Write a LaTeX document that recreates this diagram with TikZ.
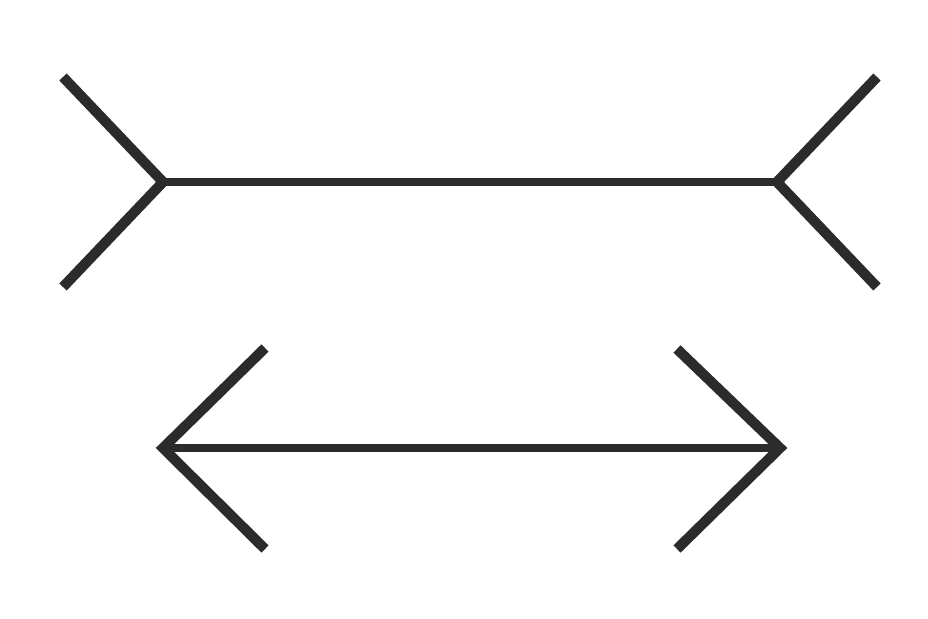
\documentclass[tikz,border=0pt]{standalone}
\usepackage{xcolor}
\usepackage{tikz}
\definecolor{ink}{HTML}{2B2B2B}

\begin{document}
\begin{tikzpicture}[
  x=0.01cm, y=-0.01cm,
  fin/.style={draw=ink, line width=2.9pt, line join=miter},
  shaft/.style={draw=ink, line width=2.3pt}
]
  \useasboundingbox (0,0) rectangle (928,619);

  % upper figure: fins turned outwards
  \coordinate (upL) at (163,182);
  \coordinate (upR) at (777,182);
  \coordinate (upLa) at (63,77);
  \coordinate (upLb) at (63,287);
  \coordinate (upRa) at (877,77);
  \coordinate (upRb) at (877,287);
  \draw[shaft] (upL) -- (upR);
  \draw[fin] (upLa) -- (upL) -- (upLb);
  \draw[fin] (upRa) -- (upR) -- (upRb);

  % lower figure: fins turned inwards
  \coordinate (lowL) at (163,448);
  \coordinate (lowR) at (780,448);
  \coordinate (lowLa) at (265,348);
  \coordinate (lowLb) at (265,549);
  \coordinate (lowRa) at (677,349);
  \coordinate (lowRb) at (677,549);
  \draw[shaft, line width=2pt] (lowL) -- (lowR);
  \draw[fin] (lowLa) -- (lowL) -- (lowLb);
  \draw[fin] (lowRa) -- (lowR) -- (lowRb);
\end{tikzpicture}
\end{document}
